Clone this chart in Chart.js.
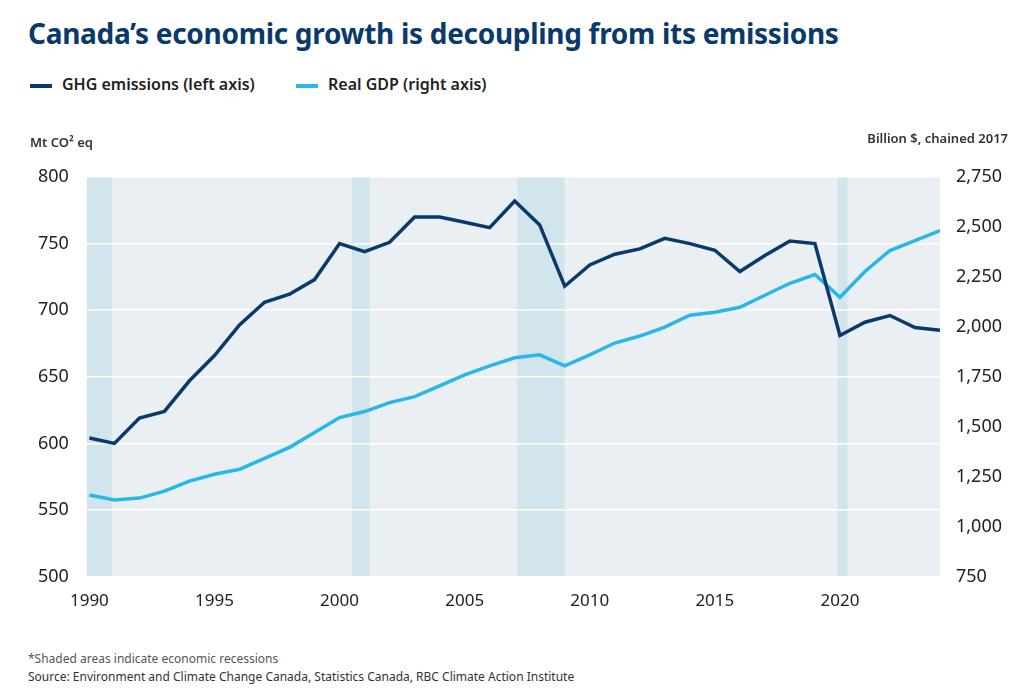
<!DOCTYPE html>
<html><head><meta charset="utf-8">
<script src="https://cdn.jsdelivr.net/npm/chart.js@4"></script>
<style>
body{margin:0;background:#fff;font-family:"Noto Sans",sans-serif;width:1024px;height:698px;position:relative;overflow:hidden}
h1{position:absolute;left:28px;top:14px;margin:0;font-size:28px;color:#0a3a6b;font-weight:700;letter-spacing:-0.3px}
.leg{position:absolute;top:73px;font-size:16px;font-weight:600;color:#222}
.leg span{display:inline-block;width:22px;height:4px;vertical-align:middle;margin-right:10px}
.fn{position:absolute;left:28px;font-size:12px;color:#333}
#wrap{position:absolute;left:0;top:125px;width:1024px;height:492px}
</style></head><body>
<h1>Canada’s economic growth is decoupling from its emissions</h1>
<div class="leg" style="left:30px"><span style="background:#0a3a6b"></span>GHG emissions (left axis)</div>
<div class="leg" style="left:296px"><span style="background:#29b6e8"></span>Real GDP (right axis)</div>
<div id="wrap"><canvas id="c"></canvas></div>
<div class="fn" style="top:650px;color:#555">*Shaded areas indicate economic recessions</div>
<div class="fn" style="top:668px">Source: Environment and Climate Change Canada, Statistics Canada, RBC Climate Action Institute</div>
<script>
const years = [];
for (let y = 1990; y <= 2024; y++) years.push(y);
const ghg = [604,600,619,624,647,666,689,706,712,723,750,744,751,770,770,766,762,782,764,718,734,742,746,754,750,745,729,741,752,750,681,691,696,687,685];
const gdp = [1158,1133,1143,1178,1228,1262,1287,1342,1397,1471,1546,1576,1621,1651,1705,1760,1805,1845,1860,1805,1860,1919,1954,1999,2058,2073,2098,2158,2218,2262,2148,2277,2382,2432,2481];
const recessions = [[1989.9,1990.9],[2000.5,2001.2],[2007.1,2009.0],[2019.9,2020.3]];

const bgPlugin = {
  id: 'bg',
  beforeDraw(chart) {
    const {ctx, chartArea: a, scales} = chart;
    ctx.save();
    ctx.fillStyle = '#eaeff3';
    ctx.fillRect(a.left, a.top, a.right - a.left, a.bottom - a.top);
    ctx.fillStyle = '#d3e5ec';
    recessions.forEach(r => {
      const x0 = Math.max(a.left, scales.x.getPixelForValue(r[0])), x1 = scales.x.getPixelForValue(r[1]);
      ctx.fillRect(x0, a.top, x1 - x0, a.bottom - a.top);
    });
    ctx.restore();
  },
  afterDraw(chart) {
    const {ctx} = chart;
    ctx.save();
    ctx.fillStyle = '#333';
    ctx.font = '600 13px "Noto Sans"';
    ctx.textAlign = 'left';
    ctx.fillText('Mt CO² eq', 30, 22);
    ctx.textAlign = 'right';
    ctx.fillText('Billion $, chained 2017', 1008, 18);
    ctx.restore();
  }
};

new Chart(document.getElementById('c'), {
  type: 'line',
  data: {
    datasets: [
      {label:'GHG', data: years.map((y,i)=>({x:y,y:ghg[i]})), borderColor:'#0a3a6b', borderWidth:3.5, pointRadius:0, yAxisID:'y', tension:0},
      {label:'GDP', data: years.map((y,i)=>({x:y,y:gdp[i]})), borderColor:'#29b6e8', borderWidth:3.5, pointRadius:0, yAxisID:'y1', tension:0}
    ]
  },
  options: {
    responsive:true, maintainAspectRatio:false, animation:false,
    layout:{padding:{left:28,right:14,top:52,bottom:0}},
    plugins:{legend:{display:false}, tooltip:{enabled:false}},
    scales:{
      x:{type:'linear', min:1989.9, max:2024, grid:{display:false}, border:{display:false},
         ticks:{color:'#222', font:{size:17, family:'Noto Sans'}, maxRotation:0, padding:6, callback:v=>String(v)},
         afterBuildTicks:s=>{s.ticks=[1990,1995,2000,2005,2010,2015,2020].map(v=>({value:v}));}},
      y:{position:'left', min:500, max:800, grid:{color:'#ffffff', lineWidth:1.5}, border:{display:false},
         ticks:{stepSize:50, color:'#222', font:{size:18, family:'Noto Sans'}, padding:10}},
      y1:{position:'right', min:750, max:2750, grid:{display:false}, border:{display:false},
         ticks:{stepSize:250, color:'#222', font:{size:18, family:'Noto Sans'}, padding:8, callback:v=>v.toLocaleString('en-US')}}
    }
  },
  plugins:[bgPlugin]
});
</script>
</body></html>
